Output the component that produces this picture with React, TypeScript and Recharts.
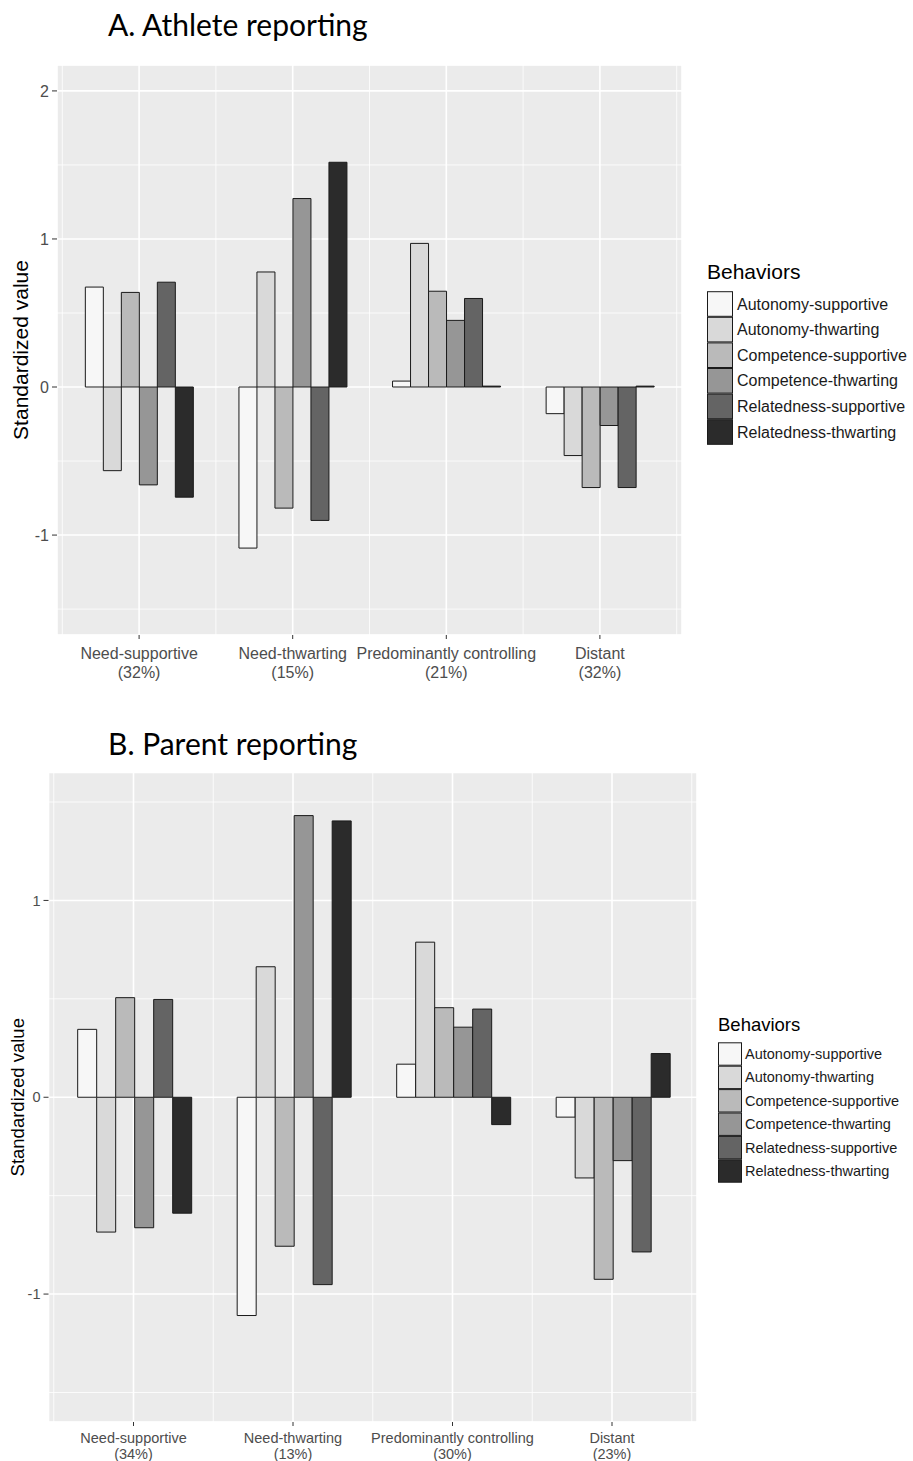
import * as React from "react";
import { BarChart, Bar, XAxis, YAxis, CartesianGrid, Label } from "recharts";

const CATEGORIES = [
  "Need-supportive",
  "Need-thwarting",
  "Predominantly controlling",
  "Distant",
];

const BEHAVIORS = [
  "Autonomy-supportive",
  "Autonomy-thwarting",
  "Competence-supportive",
  "Competence-thwarting",
  "Relatedness-supportive",
  "Relatedness-thwarting",
];

const FILLS = ["#F7F7F7", "#D9D9D9", "#BABABA", "#969696", "#646464", "#2B2B2B"];

// A. Athlete reporting
const ATHLETE_PCT = ["32%", "15%", "21%", "32%"];
const ATHLETE_AUT_SUP = [0.675, -1.088, 0.04, -0.18];
const ATHLETE_AUT_THW = [-0.565, 0.777, 0.97, -0.463];
const ATHLETE_COMP_SUP = [0.639, -0.818, 0.647, -0.679];
const ATHLETE_COMP_THW = [-0.661, 1.273, 0.45, -0.26];
const ATHLETE_REL_SUP = [0.708, -0.901, 0.598, -0.679];
const ATHLETE_REL_THW = [-0.744, 1.518, 0.006, 0.006];
const ATHLETE_TICKS = [-1, 0, 1, 2];
const ATHLETE_MINOR = [-1.5, -0.5, 0.5, 1.5];

// B. Parent reporting
const PARENT_PCT = ["34%", "13%", "30%", "23%"];
const PARENT_AUT_SUP = [0.345, -1.109, 0.168, -0.101];
const PARENT_AUT_THW = [-0.685, 0.663, 0.788, -0.41];
const PARENT_COMP_SUP = [0.506, -0.757, 0.455, -0.925];
const PARENT_COMP_THW = [-0.663, 1.431, 0.356, -0.322];
const PARENT_REL_SUP = [0.497, -0.952, 0.448, -0.786];
const PARENT_REL_THW = [-0.589, 1.404, -0.139, 0.222];
const PARENT_TICKS = [-1, 0, 1];
const PARENT_MINOR = [-1.5, -0.5, 0.5, 1.5];

const SANS = "'Liberation Sans', Arial, sans-serif";
const TITLE_FONT = "Lato, 'Open Sans', sans-serif";

type Row = Record<string, string | number>;

function buildRows(pct: string[], series: number[][]): Row[] {
  return CATEGORIES.map((c, i) => {
    const row: Row = { label: `${c}|${pct[i]}` };
    BEHAVIORS.forEach((b, j) => {
      row[b] = series[j][i];
    });
    return row;
  });
}

const athleteRows = buildRows(ATHLETE_PCT, [
  ATHLETE_AUT_SUP,
  ATHLETE_AUT_THW,
  ATHLETE_COMP_SUP,
  ATHLETE_COMP_THW,
  ATHLETE_REL_SUP,
  ATHLETE_REL_THW,
]);

const parentRows = buildRows(PARENT_PCT, [
  PARENT_AUT_SUP,
  PARENT_AUT_THW,
  PARENT_COMP_SUP,
  PARENT_COMP_THW,
  PARENT_REL_SUP,
  PARENT_REL_THW,
]);

interface PanelCfg {
  width: number;
  height: number;
  top: number;
  right: number;
  yWidth: number;
  xHeight: number;
  pad: number;
  domain: [number, number];
  ticks: number[];
  minor: number[];
  tickSize: number;
  titleSize: number;
  titleX: number;
  dy1: number;
  dy2: number;
}

function CatTick(props: any) {
  const { x, y, payload, fontSize, dy1, dy2 } = props;
  const [name, pct] = String(payload.value).split("|");
  return (
    <text
      x={x}
      y={y}
      textAnchor="middle"
      fill="#4D4D4D"
      fontSize={fontSize}
      fontFamily={SANS}
    >
      <tspan x={x} dy={dy1}>
        {name}
      </tspan>
      <tspan x={x} dy={dy2}>
        {`(${pct})`}
      </tspan>
    </text>
  );
}

function YTitle(props: any) {
  const { viewBox, cx, fontSize } = props;
  const cy = viewBox.y + viewBox.height / 2;
  return (
    <text
      x={cx}
      y={cy}
      transform={`rotate(-90 ${cx} ${cy})`}
      textAnchor="middle"
      dominantBaseline="central"
      fontSize={fontSize}
      fontFamily={SANS}
      fill="#000"
    >
      Standardized value
    </text>
  );
}

function Panel({ rows, cfg }: { rows: Row[]; cfg: PanelCfg }) {
  const plotW = cfg.width - cfg.yWidth - cfg.right;
  const band = (plotW - 2 * cfg.pad) / CATEGORIES.length;
  // minor vertical grid sits on the category band boundaries
  const minorX = Array.from(
    { length: CATEGORIES.length + 1 },
    (_, k) => cfg.yWidth + cfg.pad + k * band,
  );

  return (
    <BarChart
      width={cfg.width}
      height={cfg.height}
      data={rows}
      margin={{ top: cfg.top, right: cfg.right, bottom: 0, left: 0 }}
      barCategoryGap="15%"
      barGap={0}
    >
      <CartesianGrid
        yAxisId="minor"
        verticalPoints={minorX}
        fill="#EBEBEB"
        stroke="#FFFFFF"
        strokeWidth={0.8}
      />
      <CartesianGrid fill="none" stroke="#FFFFFF" strokeWidth={1.6} />
      <YAxis
        yAxisId="minor"
        type="number"
        domain={cfg.domain}
        ticks={cfg.minor}
        allowDataOverflow
        hide
      />
      <XAxis
        dataKey="label"
        interval={0}
        height={cfg.xHeight}
        padding={{ left: cfg.pad, right: cfg.pad }}
        axisLine={false}
        tickSize={4}
        tickLine={{ stroke: "#333333" }}
        tick={<CatTick fontSize={cfg.tickSize} dy1={cfg.dy1} dy2={cfg.dy2} />}
      />
      <YAxis
        type="number"
        width={cfg.yWidth}
        domain={cfg.domain}
        ticks={cfg.ticks}
        allowDataOverflow
        interval={0}
        axisLine={false}
        tickSize={5}
        tickMargin={3}
        tickLine={{ stroke: "#333333" }}
        tick={{ fill: "#4D4D4D", fontSize: cfg.tickSize, fontFamily: SANS }}
      >
        <Label
          content={(p: any) => (
            <YTitle {...p} cx={cfg.titleX} fontSize={cfg.titleSize} />
          )}
        />
      </YAxis>
      {BEHAVIORS.map((b, i) => (
        <Bar
          key={b}
          dataKey={b}
          fill={FILLS[i]}
          stroke="#1A1A1A"
          strokeWidth={1}
          isAnimationActive={false}
        />
      ))}
    </BarChart>
  );
}

function LegendBlock(props: {
  x: number;
  titleY: number;
  top: number;
  keyW: number;
  keyH: number;
  textX: number;
  titleSize: number;
  labelSize: number;
}) {
  const { x, titleY, top, keyW, keyH, textX, titleSize, labelSize } = props;
  return (
    <g fontFamily={SANS}>
      <text x={x} y={titleY} fontSize={titleSize} dominantBaseline="central" fill="#000">
        Behaviors
      </text>
      {BEHAVIORS.map((b, i) => (
        <g key={b}>
          <rect
            x={x + 0.5}
            y={top + i * keyH + 0.5}
            width={keyW - 1}
            height={keyH - 1}
            fill={FILLS[i]}
            stroke="#1A1A1A"
            strokeWidth={1}
          />
          <text
            x={textX}
            y={top + i * keyH + keyH / 2}
            fontSize={labelSize}
            dominantBaseline="central"
            fill="#1A1A1A"
          >
            {b}
          </text>
        </g>
      ))}
    </g>
  );
}

const CFG_A: PanelCfg = {
  width: 700,
  height: 700,
  top: 65,
  right: 18,
  yWidth: 57,
  xHeight: 65,
  pad: 5.3,
  domain: [-1.675, 2.175],
  ticks: ATHLETE_TICKS,
  minor: ATHLETE_MINOR,
  tickSize: 16,
  titleSize: 21,
  titleX: 20,
  dy1: 18,
  dy2: 19,
};

const CFG_B: PanelCfg = {
  width: 710,
  height: 761,
  top: 72.5,
  right: 13,
  yWidth: 48.5,
  xHeight: 39,
  pad: 5.25,
  domain: [-1.65, 1.65],
  ticks: PARENT_TICKS,
  minor: PARENT_MINOR,
  tickSize: 14.5,
  titleSize: 18.5,
  titleX: 17,
  dy1: 14.5,
  dy2: 16.5,
};

export default function App() {
  return (
    <div
      style={{
        position: "absolute",
        left: 0,
        top: 0,
        width: 913,
        height: 1461,
        background: "#FFFFFF",
        overflow: "hidden",
      }}
    >
      <div style={{ position: "absolute", left: 0, top: 0 }}>
        <Panel rows={athleteRows} cfg={CFG_A} />
      </div>
      <div style={{ position: "absolute", left: 0, top: 700 }}>
        <Panel rows={parentRows} cfg={CFG_B} />
      </div>
      <svg
        width={913}
        height={1461}
        style={{ position: "absolute", left: 0, top: 0, pointerEvents: "none" }}
      >
        <text x={108} y={36} fontSize={30} fontFamily={TITLE_FONT} fill="#000">
          A. Athlete reporting
        </text>
        <text x={108} y={755} fontSize={30} fontFamily={TITLE_FONT} fill="#000">
          B. Parent reporting
        </text>
        <LegendBlock
          x={707}
          titleY={271}
          top={291.2}
          keyW={26}
          keyH={25.6}
          textX={737}
          titleSize={21}
          labelSize={16}
        />
        <LegendBlock
          x={718}
          titleY={1024}
          top={1042.3}
          keyW={24}
          keyH={23.4}
          textX={745}
          titleSize={18.5}
          labelSize={14.5}
        />
      </svg>
    </div>
  );
}
